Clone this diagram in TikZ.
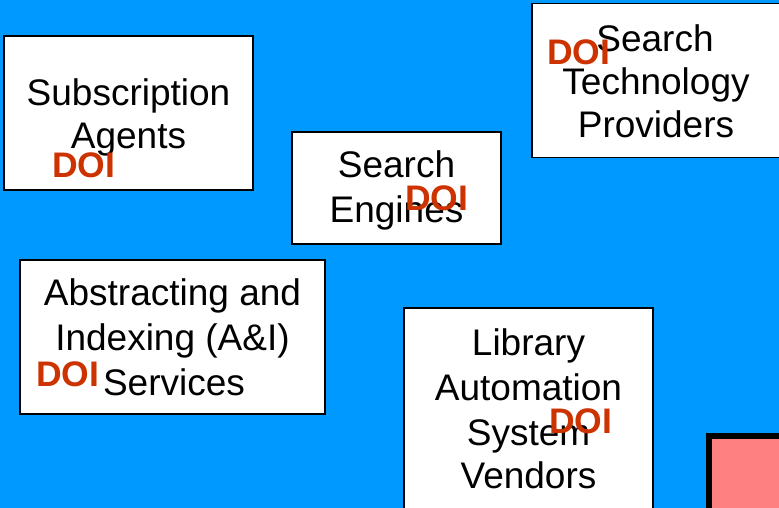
\documentclass[tikz,border=0pt]{standalone}
\usepackage{fontspec}
\setmainfont{Liberation Sans}
\definecolor{bgblue}{HTML}{0099FF}
\definecolor{doired}{HTML}{CC3300}
\definecolor{pinkfill}{HTML}{FF8080}
\begin{document}
\begin{tikzpicture}[x=1pt,y=-1pt,
  box/.style={draw=black,line width=1.6pt,fill=white},
  lbl/.style={anchor=base,inner sep=0pt,font=\fontsize{37}{44}\selectfont},
  doi/.style={anchor=base west,inner sep=0pt,text=doired,font=\fontsize{35.5}{40}\selectfont\bfseries}]
\fill[bgblue] (0,0) rectangle (779,508);
\useasboundingbox (0,0) rectangle (779,508);
% boxes
\draw[box] (4,36) rectangle (253,190);
\draw[box] (532,3.5) rectangle (790,157.5);
\draw[box] (292,132) rectangle (501,244);
\draw[box] (20,260) rectangle (325,414);
\draw[box] (404,308) rectangle (653,520);
\draw[draw=black,line width=6pt,fill=pinkfill] (709,436) rectangle (800,530);
% Subscription Agents
\node[lbl] (sa1) at (128.5,106) {Subscription};
\node[lbl] (sa2) at (128.5,149) {Agents};
\node[doi] (sad) at (52,177) {DOI};
% Search Technology Providers
\node[lbl] (st1) at (655,52) {Search};
\node[lbl] (st2) at (656,95) {Technology};
\node[lbl] (st3) at (656,138) {Providers};
\node[doi] (std) at (547,65) {DOI};
% Search Engines
\node[lbl] (se1) at (396.5,178) {Search};
\node[lbl] (se2) at (396.5,222) {Engines};
\node[doi] (sed) at (405,210) {DOI};
% Abstracting
\node[lbl] (ab1) at (172.5,305) {Abstracting and};
\node[lbl] (ab2) at (172.5,350) {Indexing (A\&I)};
\node[lbl] (ab3) at (174,395) {Services};
\node[doi] (abd) at (36,386) {DOI};
% Library
\node[lbl] (lb1) at (528.5,355) {Library};
\node[lbl] (lb2) at (528.5,400) {Automation};
\node[lbl] (lb3) at (528.5,445) {System};
\node[lbl] (lb4) at (528.5,488) {Vendors};
\node[doi] (lbd) at (549,433) {DOI};
\end{tikzpicture}
\end{document}
